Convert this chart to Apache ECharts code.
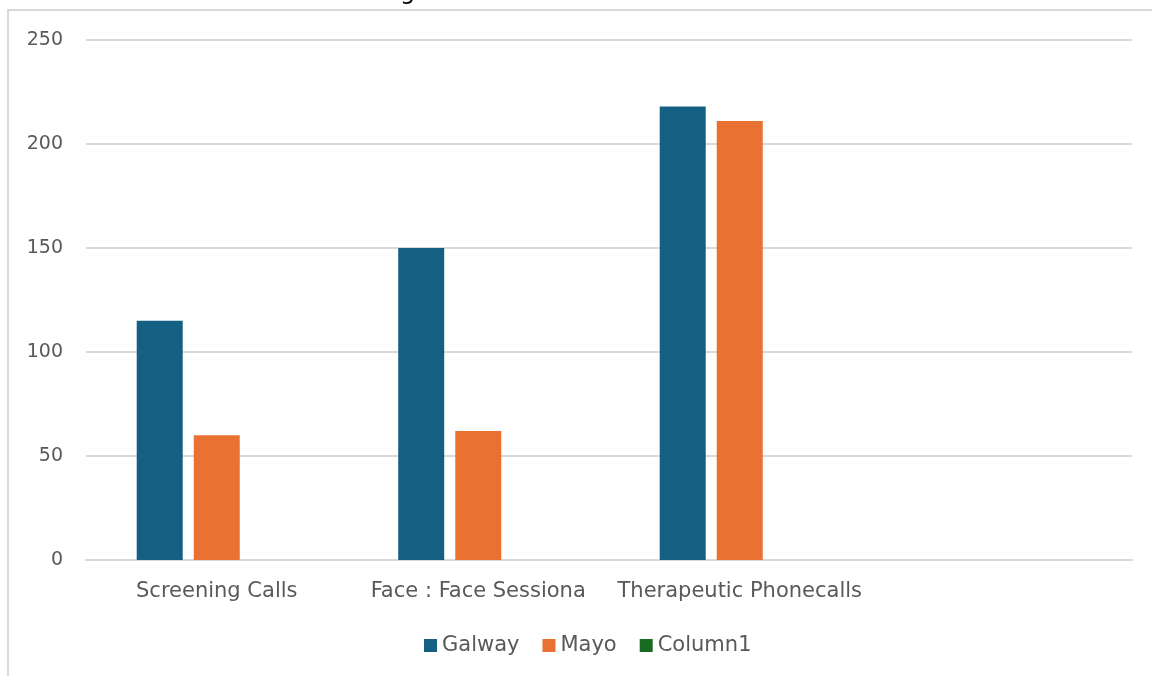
<!DOCTYPE html>
<html>
<head>
<meta charset="utf-8">
<script src="https://cdn.jsdelivr.net/npm/echarts@6/dist/echarts.min.js"></script>
<style>html,body{margin:0;padding:0;background:#fff;}#c{width:1152px;height:676px;}</style>
</head>
<body>
<div id="c"></div>
<script>
const categories = ["Screening Calls", "Face : Face Sessiona", "Therapeutic Phonecalls", ""];
const galway = [115, 150, 218, null];
const mayo = [60, 62, 211, null];
const column1 = [null, null, null, null];
const yTicks = { min: 0, max: 250, interval: 50 };

const FONT = 'DejaVu Sans';
const chart = echarts.init(document.getElementById('c'));
chart.setOption({
  animation: false,
  backgroundColor: '#fff',
  textStyle: { fontFamily: FONT },
  graphic: [
    { type: 'rect', shape: { x: 8, y: 10, width: 1200, height: 700 },
      style: { fill: 'none', stroke: '#d9d9d9', lineWidth: 2 }, silent: true },
    { type: 'text', x: 400, y: -19, style: { text: 'g', fill: '#000', font: '24px ' + FONT } }
  ],
  grid: { left: 86, right: 20, top: 40, bottom: 116, containLabel: false },
  legend: {
    left: 419, top: 630,
    itemWidth: 13, itemHeight: 13, itemGap: 23,
    icon: 'rect',
    textStyle: { color: '#595959', fontSize: 21, fontFamily: FONT },
    data: ['Galway', 'Mayo', 'Column1']
  },
  xAxis: {
    type: 'category',
    data: categories,
    axisLine: { show: true, lineStyle: { color: '#d9d9d9', width: 2 } },
    axisTick: { show: false },
    axisLabel: { color: '#595959', fontSize: 21, margin: 21, fontFamily: FONT, interval: 0 }
  },
  yAxis: {
    type: 'value',
    min: yTicks.min, max: yTicks.max, interval: yTicks.interval,
    axisLine: { show: false },
    axisTick: { show: false },
    splitLine: { lineStyle: { color: '#d9d9d9', width: 2 } },
    axisLabel: { color: '#595959', fontSize: 19, margin: 23, fontFamily: FONT }
  },
  series: [
    { name: 'Galway', type: 'bar', data: galway, barWidth: 46, barGap: '24%', itemStyle: { color: '#156082' } },
    { name: 'Mayo', type: 'bar', data: mayo, barWidth: 46, barGap: '24%', itemStyle: { color: '#E97132' } },
    { name: 'Column1', type: 'bar', data: column1, barWidth: 46, barGap: '24%', itemStyle: { color: '#196B24' } }
  ]
});
</script>
</body>
</html>
